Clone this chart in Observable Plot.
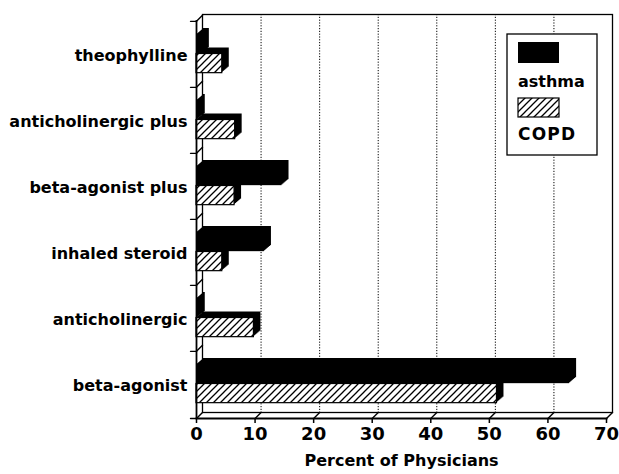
<!DOCTYPE html>
<html>
<head>
<meta charset="utf-8">
<script src="https://cdn.jsdelivr.net/npm/d3@7"></script>
<script src="https://cdn.jsdelivr.net/npm/@observablehq/plot@0.6"></script>
<style>
  html, body { margin: 0; padding: 0; background: #fff; }
  #chart { width: 619px; height: 474px; }
</style>
</head>
<body>
<div id="chart"></div>
<script>
// ---- data ----
const categories = ["theophylline", "anticholinergic plus", "beta-agonist plus", "inhaled steroid", "anticholinergic", "beta-agonist"];
const asthma = [1, 0.3, 14.6, 11.6, 0.3, 63.7];
const copd = [4.4, 6.6, 6.5, 4.4, 9.8, 51.3];
const xTicks = [0, 10, 20, 30, 40, 50, 60, 70];
const gridTicks = [10, 20, 30, 40, 50, 60];
const seriesNames = ["asthma", "COPD"];
const xLabel = "Percent of Physicians";

const rows = categories.map((c, i) => ({category: c, asthma: asthma[i], copd: copd[i]}));

// ---- layout ----
const W = 619, H = 474, mt = 20, mb = 56, ml = 196, mr = 13;
const step = (H - mt - mb) / categories.length;
const font = "DejaVu Sans, sans-serif";
const seg = {draw(ctx, l) { ctx.moveTo(0, 0); ctx.lineTo(0, -l); }};
const aTop = 13, aBot = step - 32.5, cTop = 32.5, cBot = step - 52;

const extrude = [];
for (let k = 1; k <= 7; k++) {
  const o = {dx: k, dy: -k * 6 / 7};
  extrude.push(Plot.barX(rows, {x: "asthma", y: "category", fill: "black", insetTop: aTop, insetBottom: aBot, ...o}));
  extrude.push(Plot.barX(rows, {x: "copd", y: "category", fill: "black", insetTop: cTop, insetBottom: cBot, ...o}));
}

const lineOpts = {shape: seg, anchor: "start", stroke: "black", strokeWidth: 1.4};

const plot = Plot.plot({
  width: W, height: H,
  marginTop: mt, marginBottom: mb, marginLeft: ml, marginRight: mr,
  style: {fontFamily: font, background: "white", color: "black"},
  x: {domain: [0, 70]},
  y: {domain: categories, padding: 0},
  marks: [
    // back wall and dotted grid
    Plot.ruleX(gridTicks, {dx: 6, dy: -6, stroke: "black", strokeWidth: 1, strokeDasharray: "1.2,1.6"}),
    Plot.frame({dx: 6, dy: -6, stroke: "black", strokeWidth: 1.3}),
    // floor and wall depth lines
    Plot.vector(xTicks, {x: d => d, frameAnchor: "bottom", rotate: 45, length: 8.5, ...lineOpts}),
    Plot.vector(categories, {x: () => 0, y: d => d, dy: -step / 2, rotate: 45, length: 8.5, ...lineOpts}),
    Plot.vector(categories, {x: () => 0, y: d => d, dy: -step / 2, rotate: -90, length: 6, ...lineOpts}),
    Plot.vector([0], {x: d => d, frameAnchor: "bottom", rotate: -90, length: 6, ...lineOpts}),
    // bar depth
    ...extrude,
    // bar fronts
    Plot.barX(rows, {x: "asthma", y: "category", fill: "black", insetTop: aTop, insetBottom: aBot}),
    Plot.barX(rows, {x: "copd", y: "category", fill: "url(#hatch)", stroke: "black", strokeWidth: 1.2, insetTop: cTop, insetBottom: cBot}),
    // front axes
    Plot.ruleX([0], {stroke: "black", strokeWidth: 1.8}),
    Plot.frame({anchor: "bottom", stroke: "black", strokeWidth: 1.8}),
    Plot.axisX({ticks: xTicks, tickSize: 5, tickPadding: 4, fontSize: 18, fontWeight: "bold", label: null, strokeWidth: 1.5}),
    Plot.axisY({tickSize: 0, tickPadding: 9, fontSize: 16, fontWeight: "bold", label: null, dy: 1}),
    Plot.text([xLabel], {text: d => d, frameAnchor: "bottom", dy: 42, fontSize: 16, fontWeight: "bold", lineAnchor: "middle"})
  ]
});

// hatch pattern
const svg = d3.select(plot);
const defs = svg.insert("defs", ":first-child");
const pat = defs.append("pattern").attr("id", "hatch").attr("patternUnits", "userSpaceOnUse")
  .attr("width", 7).attr("height", 7);
pat.append("rect").attr("width", 7).attr("height", 7).attr("fill", "white");
pat.append("path").attr("d", "M-1,8 L8,-1 M-1,1 L1,-1 M6,8 L8,6")
  .attr("stroke", "black").attr("stroke-width", 1.3).attr("fill", "none");

// legend (inside the plot area, top right)
const lg = svg.append("g").attr("font-family", font).attr("font-weight", "bold").attr("text-anchor", "start");
lg.append("rect").attr("x", 507).attr("y", 34).attr("width", 90).attr("height", 121)
  .attr("fill", "white").attr("stroke", "black").attr("stroke-width", 1.3);
lg.append("rect").attr("x", 518).attr("y", 42).attr("width", 41).attr("height", 21).attr("fill", "black");
lg.append("text").attr("x", 518).attr("y", 87).attr("font-size", 16).attr("text-anchor", "start").text(seriesNames[0]);
lg.append("rect").attr("x", 518).attr("y", 98).attr("width", 41).attr("height", 19)
  .attr("fill", "url(#hatch)").attr("stroke", "black").attr("stroke-width", 1.2);
lg.append("text").attr("x", 518).attr("y", 140).attr("font-size", 17).attr("letter-spacing", 1.2).attr("text-anchor", "start").text(seriesNames[1]);

document.getElementById("chart").appendChild(plot);
</script>
</body>
</html>
